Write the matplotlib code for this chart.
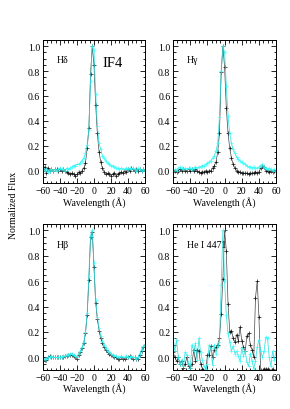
import numpy as np
import matplotlib
matplotlib.use("Agg")
import matplotlib.pyplot as plt
from matplotlib.ticker import MultipleLocator

plt.rcParams['font.family'] = ['Liberation Serif', 'DejaVu Serif']

# wavelength offset grid (Angstrom)
wave = np.arange(-62, 63, 2)

# H delta
hd_black = [0.00, 0.01, 0.03, -0.02, 0.02, 0.00, 0.01, 0.00, 0.01, 0.01, 0.00, 0.01, 0.00, 0.01, 0.00, -0.01,
            -0.02, -0.03, -0.02, -0.03, -0.04, -0.03, -0.01, -0.02, 0.00, 0.02, 0.06, 0.18, 0.34, 0.78, 1.00, 0.85,
            0.53, 0.30, 0.15, 0.07, 0.02, -0.01, -0.03, -0.02, -0.03, -0.04, -0.03, -0.02, -0.04, -0.03, -0.02, -0.01,
            -0.02, 0.00, -0.01, 0.01, 0.00, 0.02, 0.01, 0.00, 0.01, 0.00, 0.01, 0.00, 0.01, 0.00, 0.00]
hd_cyan = [0.00, 0.02, 0.00, 0.01, -0.01, 0.00, 0.01, 0.00, 0.01, 0.00, 0.01, 0.02, 0.01, 0.01, 0.00, 0.02,
           0.01, 0.02, 0.03, 0.04, 0.04, 0.05, 0.05, 0.06, 0.08, 0.10, 0.14, 0.21, 0.33, 0.72, 1.00, 0.97,
           0.62, 0.36, 0.22, 0.17, 0.12, 0.10, 0.08, 0.06, 0.05, 0.04, 0.04, 0.03, 0.02, 0.02, 0.01, 0.02,
           0.01, 0.01, 0.02, 0.01, 0.02, 0.01, 0.02, 0.01, 0.00, 0.02, 0.01, 0.00, 0.01, 0.00, 0.00]

# H gamma
hg_black = [-0.01, -0.01, 0.00, -0.01, 0.00, 0.01, 0.00, 0.01, 0.00, 0.00, 0.01, 0.00, 0.01, 0.00, 0.01, 0.00,
            -0.01, -0.02, -0.01, -0.01, 0.00, -0.01, 0.00, 0.00, 0.02, 0.04, 0.07, 0.15, 0.30, 0.79, 1.00, 0.83,
            0.50, 0.30, 0.18, 0.10, 0.05, 0.02, 0.00, -0.01, -0.01, -0.02, -0.02, -0.02, -0.02, -0.03, -0.02, -0.02,
            -0.02, -0.01, -0.02, -0.01, 0.02, 0.04, 0.03, 0.00, 0.00, -0.01, 0.00, -0.01, 0.00, 0.00, 0.00]
hg_cyan = [0.00, 0.00, 0.01, 0.00, 0.02, 0.03, 0.02, 0.01, 0.02, 0.01, 0.02, 0.02, 0.01, 0.02, 0.03, 0.02,
           0.03, 0.03, 0.04, 0.04, 0.05, 0.06, 0.07, 0.08, 0.10, 0.12, 0.16, 0.22, 0.43, 0.80, 1.00, 0.95,
           0.68, 0.44, 0.30, 0.22, 0.17, 0.14, 0.11, 0.09, 0.08, 0.07, 0.06, 0.05, 0.04, 0.03, 0.03, 0.02,
           0.03, 0.02, 0.02, 0.03, 0.04, 0.05, 0.03, 0.02, 0.01, 0.02, 0.01, 0.00, 0.01, 0.00, 0.00]

# H beta
hb_black = [-0.03, -0.03, -0.02, -0.02, 0.00, 0.01, 0.00, 0.00, 0.00, 0.00, 0.00, 0.00, 0.00, 0.00, 0.01, 0.01,
            0.02, 0.02, 0.02, 0.01, 0.00, -0.01, 0.02, 0.04, 0.07, 0.11, 0.19, 0.33, 0.61, 0.95, 0.99, 0.71,
            0.43, 0.30, 0.21, 0.15, 0.11, 0.08, 0.06, 0.04, 0.03, 0.02, 0.01, 0.00, 0.00, -0.01, -0.01, 0.00,
            -0.01, -0.01, 0.00, 0.00, 0.01, 0.00, -0.01, 0.00, -0.01, -0.01, 0.02, 0.05, 0.08, 0.10, 0.10]
hb_cyan = [-0.02, -0.02, -0.01, -0.01, 0.00, 0.00, 0.01, 0.00, 0.00, 0.00, 0.00, 0.00, 0.00, 0.01, 0.01, 0.02,
           0.02, 0.03, 0.03, 0.02, 0.01, 0.00, 0.03, 0.05, 0.08, 0.12, 0.20, 0.35, 0.64, 0.96, 1.00, 0.74,
           0.45, 0.32, 0.23, 0.17, 0.13, 0.10, 0.07, 0.05, 0.04, 0.03, 0.02, 0.01, 0.01, 0.00, 0.00, 0.01,
           0.00, 0.00, 0.01, 0.00, 0.00, 0.01, 0.00, 0.00, -0.01, 0.00, 0.03, 0.06, 0.09, 0.10, 0.10]

# He I 4471
he_black = [0.06, 0.04, 0.00, -0.03, 0.00, -0.05, -0.03, -0.08, -0.05, 0.00, -0.07, -0.08, -0.05, 0.06, -0.03, 0.06,
            0.05, -0.05, -0.09, -0.12, -0.11, 0.02, 0.02, 0.09, 0.00, 0.06, 0.08, 0.10, 0.15, 0.34, 0.62, 1.00,
            0.84, 0.42, 0.20, 0.21, 0.15, 0.12, 0.18, 0.13, 0.24, 0.13, 0.08, 0.05, 0.17, 0.19, 0.10, 0.06,
            0.00, 0.47, 0.60, 0.32, -0.10, -0.12, -0.09, -0.09, -0.09, -0.10, -0.12, -0.09, -0.12, -0.12, -0.12]
he_cyan = [0.05, 0.15, 0.05, 0.14, 0.00, -0.05, -0.02, -0.07, 0.04, 0.02, -0.05, -0.08, 0.10, 0.05, 0.11, -0.02,
           0.15, 0.04, -0.02, -0.07, -0.09, -0.05, 0.10, 0.07, -0.06, 0.10, 0.03, 0.09, 0.12, 0.57, 1.00, 0.60,
           0.33, 0.19, 0.12, 0.05, 0.09, 0.03, 0.05, 0.01, -0.03, 0.07, 0.01, 0.05, -0.04, -0.07, 0.03, -0.03,
           -0.09, -0.03, 0.08, 0.14, 0.05, 0.00, 0.05, 0.16, 0.15, 0.00, -0.07, 0.05, -0.02, 0.05, 0.00]

panels = [('Hδ', hd_black, hd_cyan),
          ('Hγ', hg_black, hg_cyan),
          ('Hβ', hb_black, hb_cyan),
          ('He I 4471', he_black, he_cyan)]

fig = plt.figure(figsize=(2.9, 4.1), dpi=100)
boxes = [[0.148, 0.551, 0.352, 0.349],
         [0.597, 0.551, 0.355, 0.349],
         [0.148, 0.095, 0.352, 0.356],
         [0.597, 0.095, 0.355, 0.356]]

for box, (name, blk, cyn) in zip(boxes, panels):
    ax = fig.add_axes(box)
    ax.plot(wave, blk, color='#444444', lw=0.5, marker='+', ms=3, mew=0.5, mec='#111111')
    ax.plot(wave, cyn, color='#22dddd', lw=0.6, marker='+', ms=3, mew=0.5, mec='#33ffff', alpha=0.85)
    ax.set_xlim(-60, 60)
    ax.set_ylim(-0.1, 1.05)
    ax.xaxis.set_major_locator(MultipleLocator(20))
    ax.xaxis.set_minor_locator(MultipleLocator(5))
    ax.yaxis.set_major_locator(MultipleLocator(0.2))
    ax.yaxis.set_minor_locator(MultipleLocator(0.05))
    ax.tick_params(which='both', direction='in', top=True, right=True, labelsize=7, width=0.6, pad=2)
    ax.tick_params(which='major', length=3.5)
    ax.tick_params(which='minor', length=1.8)
    for sp in ax.spines.values():
        sp.set_linewidth(0.7)
    ax.set_xlabel('Wavelength (Å)', fontsize=7, labelpad=0.5)
    ax.text(-44, 0.89, name, fontsize=7, ha='left', va='center')

fig.axes[0].text(22, 0.87, 'IF4', fontsize=10.5, ha='center', va='center')
fig.text(0.045, 0.5, 'Normalized Flux', rotation=90, fontsize=7, ha='center', va='center')

fig.savefig('out.png', dpi=100)
